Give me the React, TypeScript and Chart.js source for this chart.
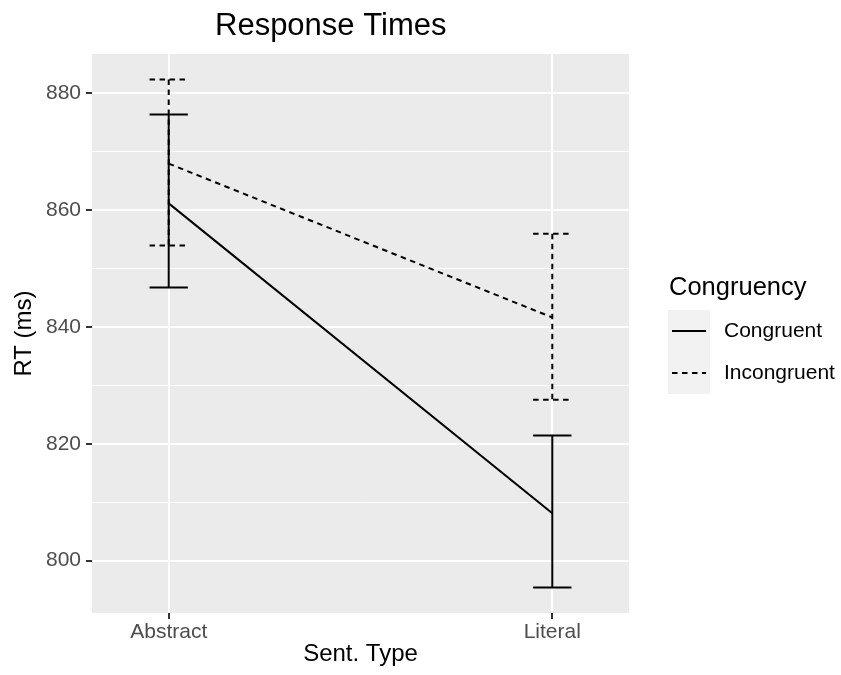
import React, { useEffect, useRef } from "react";
import { Chart, registerables } from "chart.js";

Chart.register(...registerables);

const categories = ["Abstract", "Literal"];
const seriesNames = ["Congruent", "Incongruent"];
const congruentMean = [861.1, 808.1];
const congruentUpper = [876.3, 821.4];
const congruentLower = [846.7, 795.4];
const incongruentMean = [867.9, 841.6];
const incongruentUpper = [882.3, 855.9];
const incongruentLower = [853.9, 827.5];
const yMajorTicks = [800, 820, 840, 860, 880];
const yMinorTicks = [810, 830, 850, 870];

const FONT = "'Liberation Sans', Arial, Helvetica, sans-serif";
const DASH = [5.5, 4.5];
const ERR_HALF = 0.05;

const panelPlugin = {
  id: "panelBg",
  beforeDraw(chart: any) {
    const { ctx, chartArea } = chart;
    ctx.save();
    ctx.fillStyle = "#EBEBEB";
    ctx.fillRect(chartArea.left, chartArea.top, chartArea.right - chartArea.left, chartArea.bottom - chartArea.top);
    ctx.restore();
  },
};

const errorBarPlugin = {
  id: "errorBars",
  afterDatasetsDraw(chart: any) {
    const { ctx, scales } = chart;
    const xs = scales.x;
    const ys = scales.y;
    const groups = [
      { up: congruentUpper, lo: congruentLower, dash: [] as number[] },
      { up: incongruentUpper, lo: incongruentLower, dash: DASH },
    ];
    ctx.save();
    ctx.strokeStyle = "#000000";
    ctx.lineWidth = 2;
    ctx.lineCap = "butt";
    groups.forEach((g) => {
      ctx.setLineDash(g.dash);
      categories.forEach((_, i) => {
        const xc = xs.getPixelForValue(i);
        const xl = xs.getPixelForValue(i - ERR_HALF);
        const xr = xs.getPixelForValue(i + ERR_HALF);
        const yu = ys.getPixelForValue(g.up[i]);
        const yl = ys.getPixelForValue(g.lo[i]);
        ctx.beginPath();
        ctx.moveTo(xl, yu);
        ctx.lineTo(xr, yu);
        ctx.moveTo(xc, yu);
        ctx.lineTo(xc, yl);
        ctx.moveTo(xl, yl);
        ctx.lineTo(xr, yl);
        ctx.stroke();
      });
    });
    ctx.restore();
  },
};

const textPlugin = {
  id: "texts",
  afterDraw(chart: any) {
    const { ctx } = chart;
    ctx.save();
    // Title
    ctx.fillStyle = "#000000";
    ctx.font = `31px ${FONT}`;
    ctx.textAlign = "left";
    ctx.textBaseline = "alphabetic";
    ctx.fillText("Response Times", 215, 35);
    // Legend
    ctx.font = `25.5px ${FONT}`;
    ctx.fillText("Congruency", 669, 295);
    const keyX = 668;
    const keyW = 42;
    const keyH = 42;
    const keyTop = 310;
    seriesNames.forEach((name, i) => {
      const top = keyTop + i * keyH;
      ctx.fillStyle = "#F2F2F2";
      ctx.fillRect(keyX, top, keyW, keyH);
      const cy = top + keyH / 2;
      ctx.strokeStyle = "#000000";
      ctx.lineWidth = 2;
      ctx.setLineDash(i === 0 ? [] : DASH);
      ctx.beginPath();
      ctx.moveTo(keyX + 4, cy);
      ctx.lineTo(keyX + keyW - 4, cy);
      ctx.stroke();
      ctx.setLineDash([]);
      ctx.fillStyle = "#000000";
      ctx.font = `21px ${FONT}`;
      ctx.textBaseline = "middle";
      ctx.fillText(name, 724, cy);
      ctx.textBaseline = "alphabetic";
    });
    ctx.restore();
  },
};

export default function App() {
  const ref = useRef<HTMLCanvasElement | null>(null);

  useEffect(() => {
    if (!ref.current) return;
    const majorSet = new Set(yMajorTicks);
    const chart = new Chart(ref.current, {
      type: "line",
      data: {
        datasets: [
          {
            label: seriesNames[0],
            data: categories.map((_, i) => ({ x: i, y: congruentMean[i] })),
            borderColor: "#000000",
            borderWidth: 2,
            pointRadius: 0,
            fill: false,
          },
          {
            label: seriesNames[1],
            data: categories.map((_, i) => ({ x: i, y: incongruentMean[i] })),
            borderColor: "#000000",
            borderWidth: 2,
            borderDash: DASH,
            pointRadius: 0,
            fill: false,
          },
        ],
      },
      options: {
        responsive: false,
        animation: false,
        layout: { padding: { top: 54, right: 212, left: 0, bottom: 0 } },
        plugins: {
          legend: { display: false },
          tooltip: { enabled: false },
          title: { display: false },
        },
        scales: {
          x: {
            type: "linear",
            min: -0.2,
            max: 1.2,
            afterBuildTicks: (scale: any) => {
              scale.ticks = categories.map((_, i) => ({ value: i }));
            },
            afterFit: (scale: any) => {
              scale.height = 62;
            },
            ticks: {
              autoSkip: false,
              maxRotation: 0,
              padding: 1,
              color: "#4D4D4D",
              font: { family: FONT, size: 21 },
              callback: (v: any) => categories[v] ?? "",
            },
            grid: {
              color: "#FFFFFF",
              lineWidth: 2,
              tickColor: "#333333",
              tickLength: 6,
              tickWidth: 2,
            },
            border: { display: false },
            title: {
              display: true,
              text: "Sent. Type",
              color: "#000000",
              font: { family: FONT, size: 24 },
              padding: { top: 0, bottom: 6 },
            },
          },
          y: {
            type: "linear",
            min: 791.05,
            max: 886.65,
            afterBuildTicks: (scale: any) => {
              scale.ticks = [...yMajorTicks, ...yMinorTicks]
                .sort((a, b) => a - b)
                .map((v) => ({ value: v }));
            },
            afterFit: (scale: any) => {
              scale.width = 92;
            },
            ticks: {
              autoSkip: false,
              padding: 5,
              color: "#4D4D4D",
              font: { family: FONT, size: 21 },
              callback: (v: any) => (majorSet.has(v) ? String(v) : ""),
            },
            grid: {
              color: "#FFFFFF",
              lineWidth: (c: any) => (majorSet.has(c.tick?.value) ? 2 : 1),
              tickColor: (c: any) => (majorSet.has(c.tick?.value) ? "#333333" : "rgba(0,0,0,0)"),
              tickLength: 6,
              tickWidth: 2,
            },
            border: { display: false },
            title: {
              display: true,
              text: "RT (ms)",
              color: "#000000",
              font: { family: FONT, size: 24 },
              padding: { top: 10, bottom: 0 },
            },
          },
        },
      } as any,
      plugins: [panelPlugin, errorBarPlugin, textPlugin],
    });
    return () => chart.destroy();
  }, []);

  return (
    <div style={{ position: "fixed", left: 0, top: 0, width: 841, height: 675, background: "#FFFFFF" }}>
      <canvas ref={ref} width={841} height={675} />
    </div>
  );
}
